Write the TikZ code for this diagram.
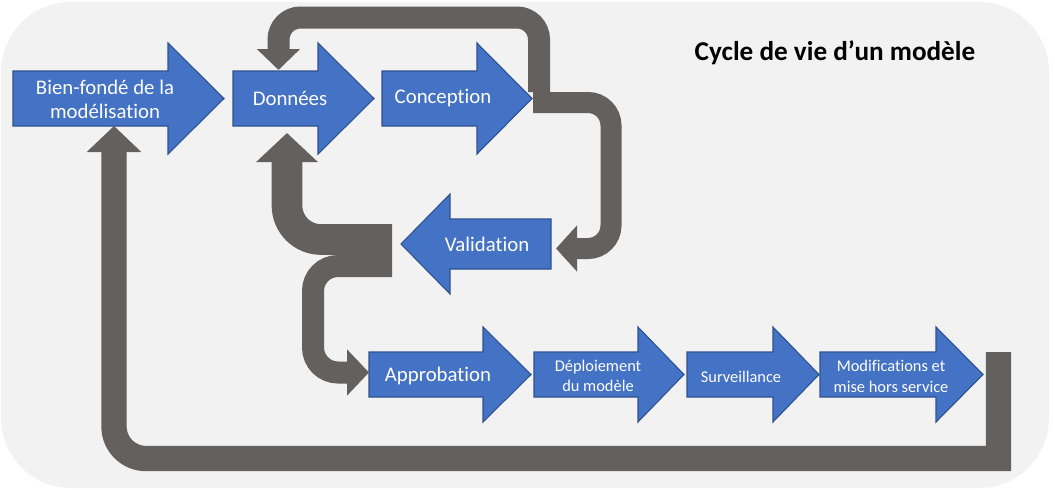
\documentclass[tikz,border=0pt]{standalone}
\usepackage{fontspec}
\setmainfont{Carlito}[Ligatures=NoCommon]
\usetikzlibrary{arrows.meta}
\definecolor{fond}{HTML}{F2F2F2}
\definecolor{bleu}{HTML}{4472C4}
\definecolor{bleufonce}{HTML}{2F528F}
\definecolor{gris}{RGB}{99,96,94}

\begin{document}
\begin{tikzpicture}[
  x=0.75pt, y=-0.75pt,
  fleche/.style = {fill=bleu, draw=bleufonce, line width=0.8pt, line join=miter},
  etape/.style = {text=white, align=center, inner sep=0pt, font=\fontsize{15.6}{18.5}\selectfont},
  petite/.style = {text=white, align=center, inner sep=0pt, font=\fontsize{12.3}{15.5}\selectfont},
  lien/.style = {draw=gris, line join=miter}
]
\useasboundingbox (0,0) rectangle (1055,489);
\fill[fond, rounded corners=52.5pt] (1,2) rectangle (1049,488);

% points d'attache des boucles
\coordinate (depart-haut) at (539,92);
\coordinate (depart-droite) at (533,102.5);
\coordinate (donnees-haut) at (278.5,70);
\coordinate (validation-droite) at (556,248.5);
\coordinate (carrefour-haut) at (392,239.5);
\coordinate (carrefour-bas) at (392,266);
\coordinate (donnees-bas) at (287,133);
\coordinate (approbation-gauche) at (369,372.5);
\coordinate (modif-droite) at (998.5,352);
\coordinate (bien-bas) at (114,126);

% boucles grises
\draw[lien, line width=16.5pt, rounded corners=16.5pt, -{Triangle[width=31.5pt,length=15.75pt]}]
  (depart-haut) -- ++(0,-74.5) -| (donnees-haut);
\draw[lien, line width=15.75pt, rounded corners=17.25pt, -{Triangle[width=33.75pt,length=15.75pt]}]
  (depart-droite) -- ++(78,0) |- (validation-droite);
\draw[lien, line width=23pt, rounded corners=25.5pt, -{Triangle[width=45pt,length=21.75pt]}]
  (carrefour-haut) -| (donnees-bas);
\draw[lien, line width=16.5pt, rounded corners=18.75pt, -{Triangle[width=33.75pt,length=16.5pt]}]
  (carrefour-bas) -- ++(-79,0) |- (approbation-gauche);
\draw[lien, line width=19pt, -{Triangle[width=39.75pt,length=19.5pt]}]
  (modif-droite) -- ++(0,106.5) [rounded corners=24pt] -| (bien-bas);

% fleches bleues
\draw[fleche] (13,71) -- (168,71) -- (168,43) -- (224,98.5) -- (168,154) -- (168,126) -- (13,126) -- cycle;
\draw[fleche] (233,71) -- (318,71) -- (318,43) -- (374,98.5) -- (318,154) -- (318,126) -- (233,126) -- cycle;
\draw[fleche] (382,71) -- (477,71) -- (477,43) -- (532,98.5) -- (477,154) -- (477,126) -- (382,126) -- cycle;
\draw[fleche] (551,219) -- (450,219) -- (450,194) -- (401,244) -- (450,294) -- (450,269) -- (551,269) -- cycle;
\draw[fleche] (369,352) -- (483,352) -- (483,327) -- (531,374.5) -- (483,422) -- (483,397) -- (369,397) -- cycle;
\draw[fleche] (534,352) -- (638,352) -- (638,327) -- (684,374.5) -- (638,422) -- (638,397) -- (534,397) -- cycle;
\draw[fleche] (687,352) -- (773,352) -- (773,327) -- (819,374.5) -- (773,422) -- (773,397) -- (687,397) -- cycle;
\draw[fleche] (820,352) -- (936,352) -- (936,327) -- (983,374.5) -- (936,422) -- (936,397) -- (820,397) -- cycle;

% textes
\node[etape] (bien) at (105,99.5) {Bien-fondé de la\\modélisation};
\node[etape] (donnees) at (290,98.5) {Données};
\node[etape] (conception) at (443,98.5) {Conception};
\node[etape] (validation) at (487,244.5) {Validation};
\node[etape] (approbation) at (438,375.5) {Approbation};
\node[petite] (deploiement) at (598,376) {Déploiement\\du modèle};
\node[petite] (surveillance) at (741,376.5) {Surveillance};
\node[petite] (modifications) at (891,376.5) {Modifications et\\mise hors service};
\node[font=\fontsize{20.4}{24}\selectfont\bfseries] (titre) at (835,53) {Cycle de vie d’un modèle};
\end{tikzpicture}
\end{document}
